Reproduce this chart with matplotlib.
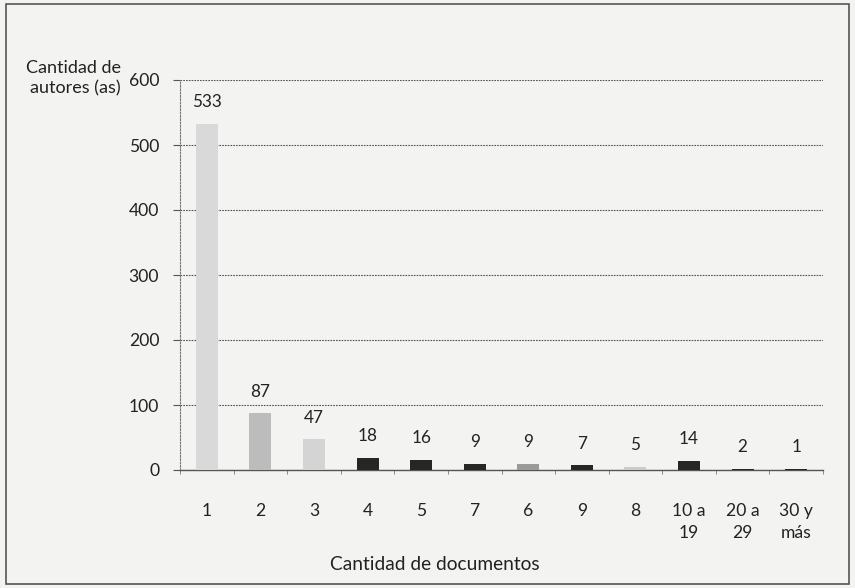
import matplotlib.pyplot as plt
from matplotlib.patches import Rectangle
import numpy as np

categorias = ['1', '2', '3', '4', '5', '7', '6', '9', '8', '10 a\n19', '20 a\n29', '30 y\nmás']
autores = [533, 87, 47, 18, 16, 9, 9, 7, 5, 14, 2, 1]
colores = ['#d9d9d9', '#bcbcbc', '#d4d4d4', '#262626', '#262626', '#262626',
           '#9a9a9a', '#262626', '#cbcbcb', '#262626', '#262626', '#262626']

plt.rcParams['font.family'] = ['Lato', 'DejaVu Sans']

fig = plt.figure(figsize=(8.55, 5.88), dpi=100)
fig.patch.set_facecolor('#f3f3f1')
W, H = 855, 588
ax = fig.add_axes([180 / W, 1 - 470 / H, (823 - 180) / W, (470 - 80) / H])
ax.set_facecolor('none')

x = np.arange(len(categorias))
ax.bar(x, autores, width=0.41, color=colores, zorder=3)
for xi, v in zip(x, autores):
    ax.annotate(str(v), (xi, v), xytext=(0, 10), textcoords='offset points',
                ha='center', va='bottom', fontsize=12.3, color='#222')

ax.set_xlim(-0.5, len(categorias) - 0.5)
ax.set_ylim(0, 600)
ax.set_yticks(range(0, 601, 100))
ax.tick_params(axis='y', labelsize=12.6, length=5, color='#555', pad=10, labelcolor='#222')
ax.set_xticks(x)
ax.set_xticklabels(categorias, fontsize=12.6, color='#222', linespacing=1.45, va='top')
ax.tick_params(axis='x', length=0, pad=24)
ax.set_xticks(np.arange(-0.5, len(categorias), 1), minor=True)
ax.tick_params(axis='x', which='minor', length=3, color='#777', direction='out')

ax.grid(axis='y', color='#555', lw=0.8, ls=(0, (1.5, 1)), zorder=1)
for s in ['top', 'right']:
    ax.spines[s].set_visible(False)
ax.spines['left'].set_color('#777')
ax.spines['left'].set_linestyle((0, (1.5, 1.5)))
ax.spines['left'].set_linewidth(0.8)
ax.spines['bottom'].set_color('#555')
ax.spines['bottom'].set_linewidth(1.0)

fig.text(121 / W, 1 - 78 / H, 'Cantidad de\nautores (as)', ha='right', va='center',
         fontsize=13, color='#222', linespacing=1.35)
fig.text(435 / W, 1 - 565 / H, 'Cantidad de documentos', ha='center', va='center',
         fontsize=13.8, color='#222')

fig.patches.append(Rectangle((6 / W, 4 / H), 843 / W, 580 / H, transform=fig.transFigure,
                             fill=False, edgecolor='#555', lw=1.2))

fig.savefig('out.png', dpi=100, facecolor=fig.get_facecolor())
